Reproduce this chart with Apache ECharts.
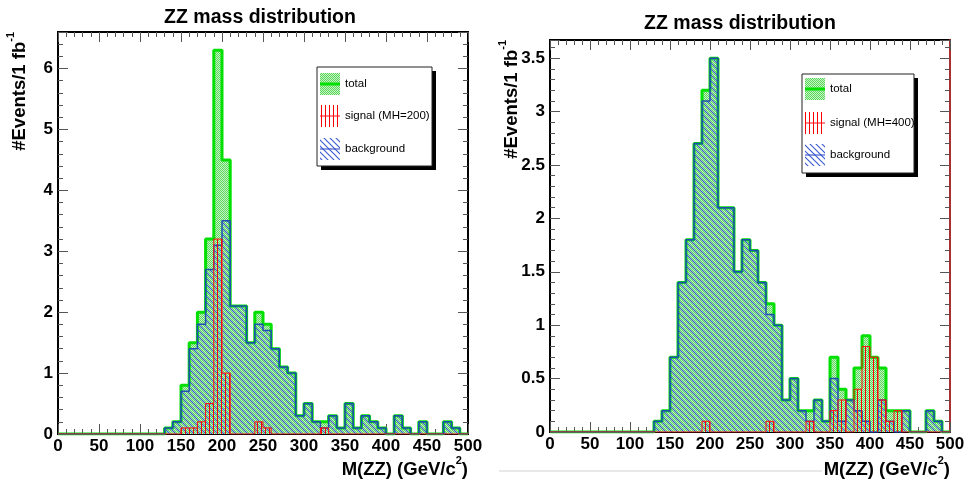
<!DOCTYPE html>
<html><head><meta charset="utf-8">
<script src="https://cdn.jsdelivr.net/npm/echarts@6/dist/echarts.min.js"></script>
<style>html,body{margin:0;padding:0;background:#fff}#c{width:978px;height:481px}</style>
</head><body><div id="c"></div>
<script>
// ---- data (10 GeV bins, 0..500) ----
const binLow = [0,10,20,30,40,50,60,70,80,90,100,110,120,130,140,150,160,170,180,190,200,210,220,230,240,250,260,270,280,290,300,310,320,330,340,350,360,370,380,390,400,410,420,430,440,450,460,470,480,490];
const binTop = 500;
const background = [0,0,0,0,0,0,0,0,0,0,0,0,0,0.1,0.2,0.7,1.4,1.8,2.7,3.1,3.5,2.1,2.1,1.5,1.8,1.7,1.4,1.1,1.0,0.3,0.5,0.2,0.1,0.3,0.1,0.5,0.1,0.3,0.2,0.1,0,0.3,0.1,0,0.2,0,0,0.2,0.1,0];
const signal200 = [0,0,0,0,0,0,0,0,0,0,0,0,0,0,0,0.1,0.1,0.2,0.5,3.2,1.0,0,0,0,0.2,0.1,0,0,0,0,0,0,0.1,0,0,0,0,0,0,0,0,0,0,0,0,0,0,0,0,0];
const total200 = [0,0,0,0,0,0,0,0,0,0,0,0,0,0.1,0.2,0.8,1.5,2.0,3.2,6.3,4.5,2.1,2.1,1.5,2.0,1.8,1.4,1.1,1.0,0.3,0.5,0.2,0.2,0.3,0.1,0.5,0.1,0.3,0.2,0.1,0,0.3,0.1,0,0.2,0,0,0.2,0.1,0];
const signal400 = [0,0,0,0,0,0,0,0,0,0,0,0,0,0,0,0,0,0,0,0.1,0,0,0,0,0,0,0,0.1,0,0,0,0,0.1,0,0,0.2,0.3,0,0.4,0.8,0.7,0.3,0.1,0.2,0,0,0,0,0,0];
const total400 = [0,0,0,0,0,0,0,0,0,0,0,0,0,0.1,0.2,0.7,1.4,1.8,2.7,3.2,3.5,2.1,2.1,1.5,1.8,1.7,1.4,1.2,1.0,0.3,0.5,0.2,0.2,0.3,0.1,0.7,0.4,0.3,0.6,0.9,0.7,0.6,0.2,0.2,0.2,0,0,0.2,0.1,0];
const panelTitles = ['ZZ mass distribution','ZZ mass distribution'];
const legendLabels200 = ['total','signal (MH=200)','background'];
const legendLabels400 = ['total','signal (MH=400)','background'];
const xTitle = ['M(ZZ) (GeV/c','2',')'];
const yTitle = ['#Events/1 fb','-1'];

// ---- patterns ----
function makeCanvas(w,h,draw){const c=document.createElement('canvas');c.width=w;c.height=h;draw(c.getContext('2d'));return c;}
const greenPat = makeCanvas(2,2,g=>{g.fillStyle='#c4f2c4';g.fillRect(0,0,2,2);g.fillStyle='#5cd85c';g.fillRect(0,0,1,1);g.fillRect(1,1,1,1);});
const bluePat = makeCanvas(6,6,g=>{g.strokeStyle='#3a5ad0';g.lineWidth=1.1;g.beginPath();g.moveTo(-1,-1);g.lineTo(7,7);g.moveTo(-1,5);g.lineTo(1,7);g.moveTo(5,-1);g.lineTo(7,1);g.stroke();});
const redPat = makeCanvas(4,4,g=>{g.fillStyle='#ff0000';g.fillRect(1,0,1,4);});
const pat = c => ({image:c, repeat:'repeat'});

function steps(vals){const d=binLow.map((x,i)=>[x,vals[i]]);d.push([binTop,0]);return d;}

const FONT='"Liberation Sans", Arial, sans-serif';
const tickStyle={color:'#555',width:1};
function xAx(grid,pos){return {type:'value',gridIndex:grid,position:pos,min:0,max:500,interval:50,
  axisLine:{show:false,onZero:false},
  axisTick:{show:true,inside:true,length:10,lineStyle:tickStyle},
  minorTick:{show:true,splitNumber:5,length:5,lineStyle:tickStyle},
  axisLabel:{show:pos==='bottom',color:'#000',fontFamily:FONT,fontWeight:'bold',fontSize:17,margin:4},
  splitLine:{show:false},minorSplitLine:{show:false}};}
function yAx(grid,pos,max,interval,axisColor){return {type:'value',gridIndex:grid,position:pos,min:0,max:max,interval:interval,
  axisLine:{show:!!axisColor,onZero:false,lineStyle:{color:axisColor||'#000',width:2}},
  axisTick:{show:true,inside:true,length:10,lineStyle:tickStyle},
  minorTick:{show:true,splitNumber:5,length:5,lineStyle:tickStyle},
  axisLabel:{show:pos==='left',showMaxLabel:false,color:'#000',fontFamily:FONT,fontWeight:'bold',fontSize:17,margin:5},
  splitLine:{show:false},minorSplitLine:{show:false}};}

function hist(name,xi,yi,vals,kind,z){
  const st = kind==='total'?{line:{color:'#00e000',width:3},fill:pat(greenPat)}
           : kind==='sig'?{line:{color:'#ff1010',width:1},fill:pat(redPat)}
           : {line:{color:'#1f4fb0',width:1.5},fill:pat(bluePat)};
  return {name,type:'line',xAxisIndex:xi,yAxisIndex:yi,step:'end',symbol:'none',data:steps(vals),
    lineStyle:st.line,areaStyle:{color:st.fill,opacity:1},z:z,silent:true,animation:false};
}

function legendGraphic(x0,y0,w,h,rows,iconX,textX,labels){
  const els=[
    {type:'rect',shape:{x:x0+4,y:y0+4,width:w,height:h},style:{fill:'#000'}},
    {type:'rect',shape:{x:x0,y:y0,width:w,height:h},style:{fill:'#fff',stroke:'#222',lineWidth:1}}
  ];
  const fills=[pat(greenPat),pat(redPat),pat(bluePat)];
  const lines=[{c:'#00e000',w:3},{c:'#ff1010',w:1},{c:'#2040c0',w:1}];
  rows.forEach((ry,i)=>{
    els.push({type:'rect',shape:{x:iconX,y:ry-11,width:20,height:22},style:{fill:fills[i]}});
    els.push({type:'line',shape:{x1:iconX,y1:ry,x2:iconX+20,y2:ry},style:{stroke:lines[i].c,lineWidth:lines[i].w}});
    els.push({type:'text',x:textX,y:ry,style:{text:labels[i],fill:'#000',font:'11.5px '+FONT,align:'left',verticalAlign:'middle'}});
  });
  return els;
}

function titleText(x,y,t){return {type:'text',x:x,y:y,style:{text:t,fill:'#000',font:'bold 19.5px '+FONT,align:'center',verticalAlign:'middle'}};}
const richStyles = {m:{fontFamily:FONT,fontWeight:'bold',fontSize:18.5,lineHeight:24,verticalAlign:'bottom',fill:'#000',color:'#000'},
                    s:{fontFamily:FONT,fontWeight:'bold',fontSize:11,lineHeight:24,verticalAlign:'top',fill:'#000',color:'#000'}};
function xTitleText(x,y){return {type:'text',x:x,y:y,style:{text:'{m|'+xTitle[0]+'}{s|'+xTitle[1]+'}{m|'+xTitle[2]+'}',align:'right',verticalAlign:'middle',rich:richStyles}};}
function yTitleText(x,y){return {type:'text',x:x,y:y,rotation:Math.PI/2,style:{text:'{m|'+yTitle[0]+'}{s|'+yTitle[1]+'}',align:'right',verticalAlign:'middle',rich:richStyles}};}

const chart = echarts.init(document.getElementById('c'),null,{renderer:'canvas'});
chart.setOption({
  animation:false,
  backgroundColor:'#fff',
  grid:[
    {left:58,top:32,width:410,height:402,show:true,borderColor:'#000',borderWidth:2,backgroundColor:'transparent'},
    {left:550,top:40,width:400,height:392,show:true,borderColor:'#000',borderWidth:2,backgroundColor:'transparent'}
  ],
  xAxis:[xAx(0,'bottom'),xAx(0,'top'),xAx(1,'bottom'),xAx(1,'top')],
  yAxis:[yAx(0,'left',6.6,1),yAx(0,'right',6.6,1),yAx(1,'left',3.67,0.5),yAx(1,'right',3.67,0.5,'#a83030')],
  series:[
    hist('total',0,0,total200,'total',2),
    hist('background',0,0,background,'bg',3),
    hist('signal (MH=200)',0,0,signal200,'sig',4),
    hist('total',2,2,total400,'total',2),
    hist('background',2,2,background,'bg',3),
    hist('signal (MH=400)',2,2,signal400,'sig',4)
  ],
  graphic:[
    {type:'rect',z:-1,shape:{x:499,y:470,width:323,height:2},style:{fill:'#e8e8e8'}},
    titleText(260,18,panelTitles[0]),
    titleText(740,24,panelTitles[1]),
    yTitleText(17,32),
    yTitleText(509,40),
    xTitleText(468,467),
    xTitleText(950,467),
    ...legendGraphic(317,67,115,99,[84,116,149],320,345,legendLabels200),
    ...legendGraphic(802,74,112,99,[89,123,155],805,830,legendLabels400)
  ]
});
</script></body></html>
